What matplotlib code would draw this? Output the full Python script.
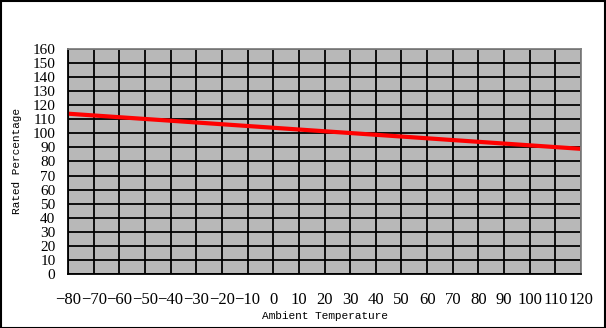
import matplotlib
matplotlib.use("Agg")
import matplotlib.pyplot as plt
from matplotlib.patches import Rectangle

temps = [-80, 120]
rated = [114, 89]
xticks = list(range(-80, 121, 10))
yticks = list(range(0, 161, 10))

fig = plt.figure(figsize=(6.06, 3.28), dpi=100)
ax = fig.add_axes([68/606, 54/328, (581-68)/606, (274-49)/328])
ax.set_facecolor("#b8b8b8")
ax.set_xlim(-80, 120)
ax.set_ylim(0, 160)
ax.set_xticks(xticks)
ax.set_yticks(yticks)
ax.grid(True, color="black", linewidth=1.3)
ax.set_axisbelow(True)
ax.plot(temps, rated, color="red", linewidth=3, solid_capstyle="butt")
font = "Liberation Serif"
ax.tick_params(length=0)
ax.tick_params(axis="x", pad=13, labelsize=12)
ax.tick_params(axis="y", pad=9, labelsize=11)
for lab in ax.get_xticklabels() + ax.get_yticklabels():
    lab.set_fontfamily(font)
for s in ["left", "bottom"]:
    ax.spines[s].set_color("black")
    ax.spines[s].set_linewidth(1.3)
for s in ["top", "right"]:
    ax.spines[s].set_color("#808080")
    ax.spines[s].set_linewidth(1.3)
ax.set_xlabel("Ambient Temperature", fontfamily="Liberation Mono", fontsize=8, labelpad=2)
ax.set_ylabel("Rated Percentage", fontfamily="Liberation Mono", fontsize=8, labelpad=8)
fig.patches.append(Rectangle((0.5/606, 0.5/328), 1-1.5/606, 1-1.5/328, transform=fig.transFigure,
                             fill=False, edgecolor="black", linewidth=1.5))
fig.savefig("out.png", dpi=100)
